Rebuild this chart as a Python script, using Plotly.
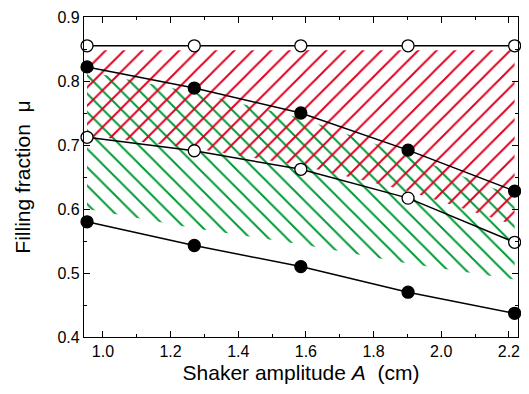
import plotly.graph_objects as go

# Shaker amplitude A (cm)
amplitude = [0.953, 1.27, 1.585, 1.902, 2.217]
# Filling fraction curves
mu_top = [0.855, 0.855, 0.855, 0.855, 0.855]          # open circles
mu_upper = [0.822, 0.789, 0.750, 0.692, 0.628]        # filled circles
mu_middle = [0.712, 0.691, 0.662, 0.617, 0.548]       # open circles
mu_bottom = [0.580, 0.543, 0.510, 0.470, 0.437]       # filled circles

# hatch extents
red_hatch_top = [0.848, 0.848, 0.848, 0.848, 0.848]
red_hatch_bottom = [0.715, 0.695, 0.668, 0.628, 0.575]
green_hatch_top = [0.815, 0.782, 0.742, 0.684, 0.62]
green_hatch_bottom = [0.60, 0.57, 0.545, 0.515, 0.49]

RED = "#e0001e"
GREEN = "#009a35"
FONT = "Liberation Sans, Arial"

fig = go.Figure()

# green hatch (\)
fig.add_trace(go.Scatter(x=amplitude, y=green_hatch_bottom, mode="lines",
                         line=dict(width=0), hoverinfo="skip", showlegend=False))
fig.add_trace(go.Scatter(x=amplitude, y=green_hatch_top, mode="lines",
                         line=dict(width=0), fill="tonexty",
                         fillcolor="rgba(255,255,255,0)",
                         fillpattern=dict(shape="\\", fgcolor=GREEN, fgopacity=1,
                                          bgcolor="rgba(255,255,255,0)",
                                          size=13, solidity=0.15),
                         hoverinfo="skip", showlegend=False))
# red hatch (/)
fig.add_trace(go.Scatter(x=amplitude, y=red_hatch_bottom, mode="lines",
                         line=dict(width=0), hoverinfo="skip", showlegend=False))
fig.add_trace(go.Scatter(x=amplitude, y=red_hatch_top, mode="lines",
                         line=dict(width=0), fill="tonexty",
                         fillcolor="rgba(255,255,255,0)",
                         fillpattern=dict(shape="/", fgcolor=RED, fgopacity=1,
                                          bgcolor="rgba(255,255,255,0)",
                                          size=13, solidity=0.15),
                         hoverinfo="skip", showlegend=False))

def curve(y, filled):
    fig.add_trace(go.Scatter(
        x=amplitude, y=y, mode="lines+markers", cliponaxis=False,
        line=dict(color="black", width=1.5),
        marker=dict(size=12, color="black" if filled else "white",
                    line=dict(color="black", width=1.3)),
        showlegend=False))

curve(mu_top, False)
curve(mu_upper, True)
curve(mu_middle, False)
curve(mu_bottom, True)

axis_common = dict(showline=True, linecolor="black", linewidth=1.3, mirror="allticks",
                   ticks="inside", ticklen=6, tickwidth=1, tickcolor="black",
                   showgrid=False, zeroline=False, automargin=False,
                   tickfont=dict(family=FONT, size=16, color="black"))

fig.update_xaxes(range=[0.944, 2.227], tickvals=[1.0, 1.2, 1.4, 1.6, 1.8, 2.0, 2.2],
                 ticktext=["1.0", "1.2", "1.4", "1.6", "1.8", "2.0", "2.2"],
                 minor=dict(ticks="inside", ticklen=3, tickcolor="black", dtick=0.1, tick0=0.9),
                 title=dict(text="Shaker amplitude <i>A</i>  (cm)",
                            font=dict(family=FONT, size=21, color="black"),
                            standoff=5),
                 **axis_common)
fig.update_yaxes(range=[0.4, 0.9], tickvals=[0.4, 0.5, 0.6, 0.7, 0.8, 0.9],
                 ticktext=["0.4", "0.5", "0.6", "0.7", "0.8", "0.9"],
                 minor=dict(ticks="inside", ticklen=3, tickcolor="black", dtick=0.05, tick0=0.4),
                 title=dict(text="Filling fraction  μ",
                            font=dict(family=FONT, size=21, color="black"),
                            standoff=21),
                 **axis_common)

fig.update_layout(width=521, height=386, margin=dict(l=76, r=11, t=9, b=57),
                  plot_bgcolor="white", paper_bgcolor="white")

fig.write_html("out.html")
